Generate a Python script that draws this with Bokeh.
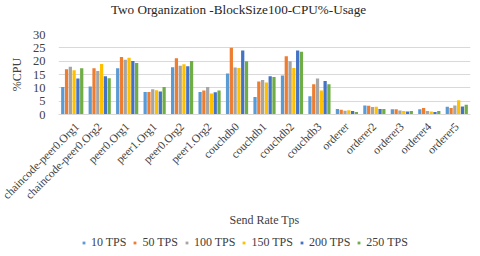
from bokeh.plotting import figure
from bokeh.models import FactorRange, Range1d, FixedTicker, Legend, LegendItem, ColumnDataSource, Label
from bokeh.transform import dodge
from bokeh.layouts import column
from bokeh.embed import file_html
from bokeh.resources import INLINE
import math

categories = ["chaincode-peer0.Org1", "chaincode-peer0.Org2", "peer0.Org1", "peer1.Org1",
              "peer0.Org2", "peer1.Org2", "couchdb0", "couchdb1", "couchdb2", "couchdb3",
              "orderer", "orderer2", "orderer3", "orderer4", "orderer5"]

tps_10 = [10.3, 10.5, 17.3, 8.4, 17.7, 8.4, 15.4, 6.6, 14.6, 6.8, 2.1, 3.4, 2.0, 2.0, 2.9]
tps_50 = [17.0, 17.3, 21.6, 8.4, 21.1, 9.0, 25.0, 12.4, 21.8, 11.3, 1.8, 3.3, 2.0, 2.4, 2.4]
tps_100 = [17.9, 16.3, 20.5, 9.5, 18.3, 10.3, 17.6, 12.9, 20.0, 13.5, 1.4, 2.8, 1.5, 1.3, 3.4]
tps_150 = [16.6, 18.9, 21.3, 9.1, 18.8, 7.9, 17.4, 12.0, 17.4, 9.0, 1.6, 2.9, 1.3, 1.1, 5.3]
tps_200 = [13.5, 14.3, 20.1, 8.6, 18.1, 8.3, 24.0, 14.3, 24.0, 12.6, 1.3, 2.1, 1.1, 0.9, 3.0]
tps_250 = [17.3, 13.6, 19.3, 10.3, 20.1, 9.0, 20.0, 14.1, 23.5, 11.3, 0.9, 2.1, 1.3, 1.3, 3.7]

series_names = ["10 TPS", "50 TPS", "100 TPS", "150 TPS", "200 TPS", "250 TPS"]
series_values = [tps_10, tps_50, tps_100, tps_150, tps_200, tps_250]
colors = ["#5B9BD5", "#ED7D31", "#A5A5A5", "#FFC000", "#4472C4", "#70AD47"]
y_ticks = [0, 5, 10, 15, 20, 25, 30]
title_text = "Two Organization -BlockSize100-CPU%-Usage"

FONT = "Liberation Serif"
TXT = "#404040"

data = {"cat": categories}
for i, vals in enumerate(series_values):
    data["s%d" % i] = vals
source = ColumnDataSource(data)

# title strip
tf = figure(width=472, height=18, x_range=Range1d(0, 1), y_range=Range1d(0, 1),
            output_backend="svg", toolbar_location=None, x_axis_type=None, y_axis_type=None,
            min_border=0)
tf.outline_line_color = None
tf.add_layout(Label(x=180, y=9, x_units="screen", y_units="screen", text=title_text,
                    text_font=FONT, text_font_size="13.2px", text_color="#262626",
                    text_align="center", text_baseline="middle"))

# main chart
p = figure(width=472, height=218, x_range=FactorRange(*categories, range_padding=0),
           y_range=Range1d(0, 30), output_backend="svg", toolbar_location=None,
           min_border_left=58, min_border_right=2, min_border_top=16, min_border_bottom=122)

slot = 0.138
bw = 0.118
for i, name in enumerate(series_names):
    off = (i - 2.5) * slot
    p.vbar(x=dodge("cat", off, range=p.x_range), top="s%d" % i, width=bw,
           source=source, color=colors[i], line_color=None)

p.outline_line_color = None
p.background_fill_color = "white"
p.xgrid.grid_line_color = None
p.ygrid.grid_line_color = "#D9D9D9"
p.ygrid.grid_line_width = 1

p.yaxis.ticker = FixedTicker(ticks=y_ticks)
p.yaxis.axis_line_color = None
p.yaxis.major_tick_line_color = None
p.yaxis.minor_tick_line_color = None
p.yaxis.major_label_text_font = FONT
p.yaxis.major_label_text_font_size = "12.5px"
p.yaxis.major_label_text_color = TXT
p.yaxis.major_label_standoff = 7
p.yaxis.axis_label = "%CPU"
p.yaxis.axis_label_text_font = FONT
p.yaxis.axis_label_text_font_size = "12px"
p.yaxis.axis_label_text_font_style = "normal"
p.yaxis.axis_label_text_color = TXT
p.yaxis.axis_label_standoff = 6

p.xaxis.axis_line_color = "#D9D9D9"
p.xaxis.major_tick_line_color = None
p.xaxis.minor_tick_line_color = None
p.xaxis.major_label_orientation = math.pi / 4
p.xaxis.major_label_text_font = FONT
p.xaxis.major_label_text_font_size = "11.5px"
p.xaxis.major_label_text_color = TXT
p.xaxis.major_label_standoff = 4
p.xaxis.axis_label = "Send Rate Tps"
p.xaxis.axis_label_text_font = FONT
p.xaxis.axis_label_text_font_size = "12px"
p.xaxis.axis_label_text_font_style = "normal"
p.xaxis.axis_label_text_color = TXT
p.xaxis.axis_label_standoff = 5

# legend strip
lg = figure(width=472, height=17, x_range=Range1d(0, 1), y_range=Range1d(0, 1),
            output_backend="svg", toolbar_location=None, x_axis_type=None, y_axis_type=None,
            min_border=0)
lg.outline_line_color = None
items = []
for i, name in enumerate(series_names):
    r = lg.scatter(x=[-5], y=[-5], marker="square", size=7, color=colors[i], line_color=None)
    items.append(LegendItem(label=name, renderers=[r]))
legend = Legend(items=items, orientation="horizontal", location=(22, 3),
                label_text_font=FONT, label_text_font_size="12px", label_text_color=TXT,
                glyph_width=7, glyph_height=7, spacing=5, label_standoff=4, label_height=12,
                border_line_color=None, background_fill_alpha=0, padding=0, margin=0)
lg.add_layout(legend, "center")

open("out.html", "w").write(file_html(column(tf, p, lg), INLINE))
